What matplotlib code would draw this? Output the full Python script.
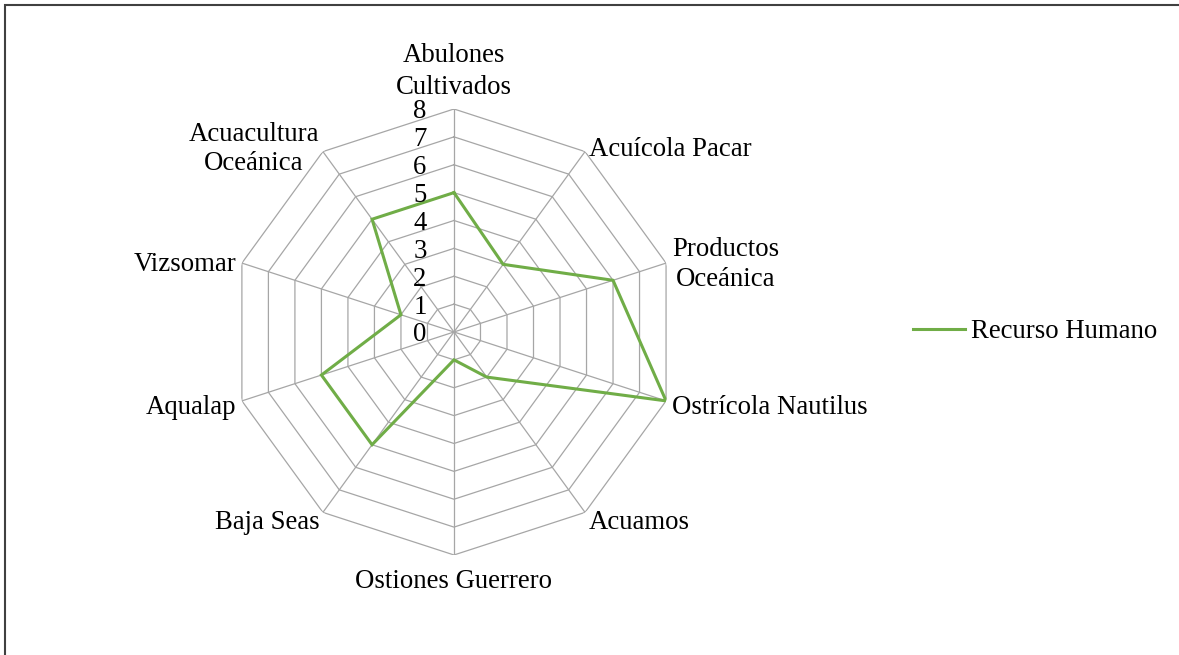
import numpy as np
import matplotlib.pyplot as plt
from matplotlib.patches import Rectangle

plt.rcParams["font.family"] = ["Liberation Serif", "DejaVu Serif"]

categories = [
    "Abulones\nCultivados", "Acuícola Pacar", "Productos\nOceánica",
    "Ostrícola Nautilus", "Acuamos", "Ostiones Guerrero", "Baja Seas",
    "Aqualap", "Vizsomar", "Acuacultura\nOceánica",
]
recurso_humano = [5, 3, 6, 8, 2, 1, 5, 5, 2, 5]
ticks = [0, 1, 2, 3, 4, 5, 6, 7, 8]

green = "#70AD47"
grid_c = "#A6A6A6"
fs = 19.3

fig = plt.figure(figsize=(11.79, 6.55), dpi=100)
ax = fig.add_axes([0.1959, 0.1527, 0.3783, 0.6809], projection="polar")
ax.set_theta_zero_location("N")
ax.set_theta_direction(-1)
ax.set_ylim(0, 8)
ax.axis("off")

n = len(categories)
theta = np.arange(n) * 2 * np.pi / n
closed = np.append(theta, theta[0])

# polygon grid
for t in ticks[1:]:
    ax.plot(closed, [t] * (n + 1), color=grid_c, lw=0.9, zorder=1)
for th in theta:
    ax.plot([th, th], [0, ticks[-1]], color=grid_c, lw=0.9, zorder=1)

# series
ax.plot(closed, recurso_humano + recurso_humano[:1], color=green, lw=2.2,
        zorder=3, label="Recurso Humano", solid_joinstyle="miter")

# radial labels
for t in ticks:
    ax.annotate(str(t), xy=(0, t), xytext=(-34, 0), textcoords="offset pixels",
                ha="center", va="center_baseline", fontsize=fs)

# category labels
for th, lab in zip(theta, categories):
    s = np.sin(th)
    c = np.cos(th)
    if abs(s) < 0.01:
        if c > 0:
            ax.text(th, 8.33, lab, ha="center", va="bottom", fontsize=fs,
                    multialignment="center", linespacing=1.35)
        else:
            ax.text(th, 8.5, lab, ha="center", va="top", fontsize=fs,
                    multialignment="center")
    else:
        ha = "left" if s > 0 else "right"
        dx = 6 * s
        ax.annotate(lab, xy=(th, 8), xytext=(dx, 8 * c - 4),
                    textcoords="offset pixels", ha=ha, va="center",
                    fontsize=fs, multialignment="center", linespacing=1.25)

fig.legend(loc="center left", bbox_to_anchor=(913 / 1179, 1 - 332 / 655),
           frameon=False, fontsize=fs, handlelength=1.95, handletextpad=0.2,
           borderpad=0, borderaxespad=0)

fig.patches.append(Rectangle((5 / 1179, -0.1), 1.2, 1.1 - 5 / 655,
                             transform=fig.transFigure, fill=False,
                             edgecolor="#404040", lw=1.5))

fig.savefig("out.png", dpi=100)
